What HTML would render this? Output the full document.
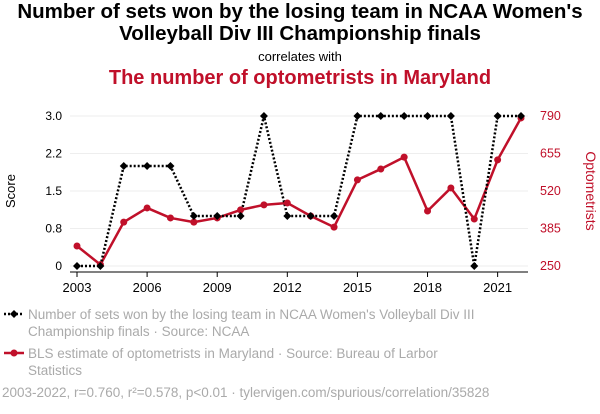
<!DOCTYPE html>
<html><head><meta charset="utf-8"><style>
body{margin:0;background:#fff;font-family:"Liberation Sans",sans-serif;}
#wrap{position:relative;width:600px;height:414px;overflow:hidden;}
.t{position:absolute;white-space:nowrap;}
</style></head><body>
<div id="wrap">
<div class="t" style="left:-50px;width:700px;text-align:center;top:1px;font-size:20.5px;font-weight:bold;line-height:22px;color:#000;">Number of sets won by the losing team in NCAA Women's<br>Volleyball Div III Championship finals</div>
<div class="t" style="left:0;width:600px;text-align:center;top:49px;font-size:13px;color:#000;">correlates with</div>
<div class="t" style="left:0;width:600px;text-align:center;top:67px;font-size:20px;font-weight:bold;color:#c0102a;">The number of optometrists in Maryland</div>
<svg id="svg" width="600" height="414" style="position:absolute;left:0;top:0;"></svg>
<div class="t" style="left:28px;top:306px;font-size:13.5px;line-height:17px;color:#aaa;">Number of sets won by the losing team in NCAA Women's Volleyball Div III<br>Championship finals · Source: NCAA</div>
<div class="t" style="left:28px;top:345px;font-size:13.5px;line-height:17px;color:#aaa;">BLS estimate of optometrists in Maryland · Source: Bureau of Larbor<br>Statistics</div>
<div class="t" style="left:2px;top:385px;font-size:13.5px;color:#aaa;">2003-2022, r=0.760, r²=0.578, p&lt;0.01 · tylervigen.com/spurious/correlation/35828</div>
</div>
<script>
const years=[2003,2004,2005,2006,2007,2008,2009,2010,2011,2012,2013,2014,2015,2016,2017,2018,2019,2020,2021,2022];
const sets=[0,0,2,2,2,1,1,1,3,1,1,1,3,3,3,3,3,0,3,3];
const optom=[322,255,408,459,423,408,423,452,470,477,430,390,560,599,642,448,531,419,632,783];
const leftTicks=[0,0.75,1.5,2.25,3];
const leftLabels=["0","0.8","1.5","2.2","3.0"];
const rightTicks=[250,385,520,655,790];
const xTicks=[2003,2006,2009,2012,2015,2018,2021];
const NS="http://www.w3.org/2000/svg";
const svg=document.getElementById('svg');
const X=y=>77+(y-2003)*(521-77)/19;
const YL=v=>266-v*50;
const YR=v=>266-(v-250)*150/540;
function mk(tag,at){const e=document.createElementNS(NS,tag);for(const k in at)e.setAttribute(k,at[k]);svg.appendChild(e);return e;}
leftTicks.forEach((v,i)=>{
 const g=mk('line',{x1:70,x2:528,y1:YL(v),y2:YL(v),stroke:'#eee'});
 
 
 const t=mk('text',{x:62,y:YL(v)+4,'text-anchor':'end','font-size':12,fill:'#000'});t.textContent=leftLabels[i];
 
 
});
rightTicks.forEach(v=>{
 const t=mk('text',{x:540,y:YR(v)+4,'font-size':12.5,fill:'#c0102a'});t.textContent=v;
 
 
});
xTicks.forEach(v=>{
 const l=mk('line',{x1:X(v),x2:X(v),y1:272,y2:277,stroke:'#000'});
 
 
 const t=mk('text',{x:X(v),y:292,'text-anchor':'middle','font-size':13,fill:'#000'});t.textContent=v;
 
 
});
const ax=mk('line',{x1:70,x2:528,y1:272,y2:272,stroke:'#000'});


const yl=mk('text',{x:15,y:191,transform:'rotate(-90 15 191)','text-anchor':'middle','font-size':13,fill:'#000'});yl.textContent='Score';


const yr=mk('text',{x:586,y:191,transform:'rotate(90 586 191)','text-anchor':'middle','font-size':14,fill:'#c0102a'});yr.textContent='Optometrists';


const rp=mk('polyline',{points:years.map((y,i)=>X(y)+','+YR(optom[i])).join(' '),fill:'none',stroke:'#c0102a','stroke-width':2.5,'stroke-linejoin':'round'});


const bp=mk('polyline',{points:years.map((y,i)=>X(y)+','+YL(sets[i])).join(' '),fill:'none',stroke:'#000','stroke-width':2.5,'stroke-dasharray':'2,2'});


years.forEach((y,i)=>{
 const c=mk('circle',{cx:X(y),cy:YR(optom[i]),r:3.5,fill:'#c0102a'});
 
 
 const x=X(y),yy=YL(sets[i]);
 const d=mk('polygon',{points:`${x},${yy-4} ${x+4},${yy} ${x},${yy+4} ${x-4},${yy}`,fill:'#000'});
 
 
});
const l1=mk('line',{x1:4,x2:24,y1:314,y2:314,stroke:'#000','stroke-width':2.5,'stroke-dasharray':'2,2'});


mk('polygon',{points:'14,310 18,314 14,318 10,314',fill:'#000'});
const l2=mk('line',{x1:4,x2:24,y1:353,y2:353,stroke:'#c0102a','stroke-width':2.5});


mk('circle',{cx:14,cy:353,r:3.5,fill:'#c0102a'});
</script>
</body></html>
